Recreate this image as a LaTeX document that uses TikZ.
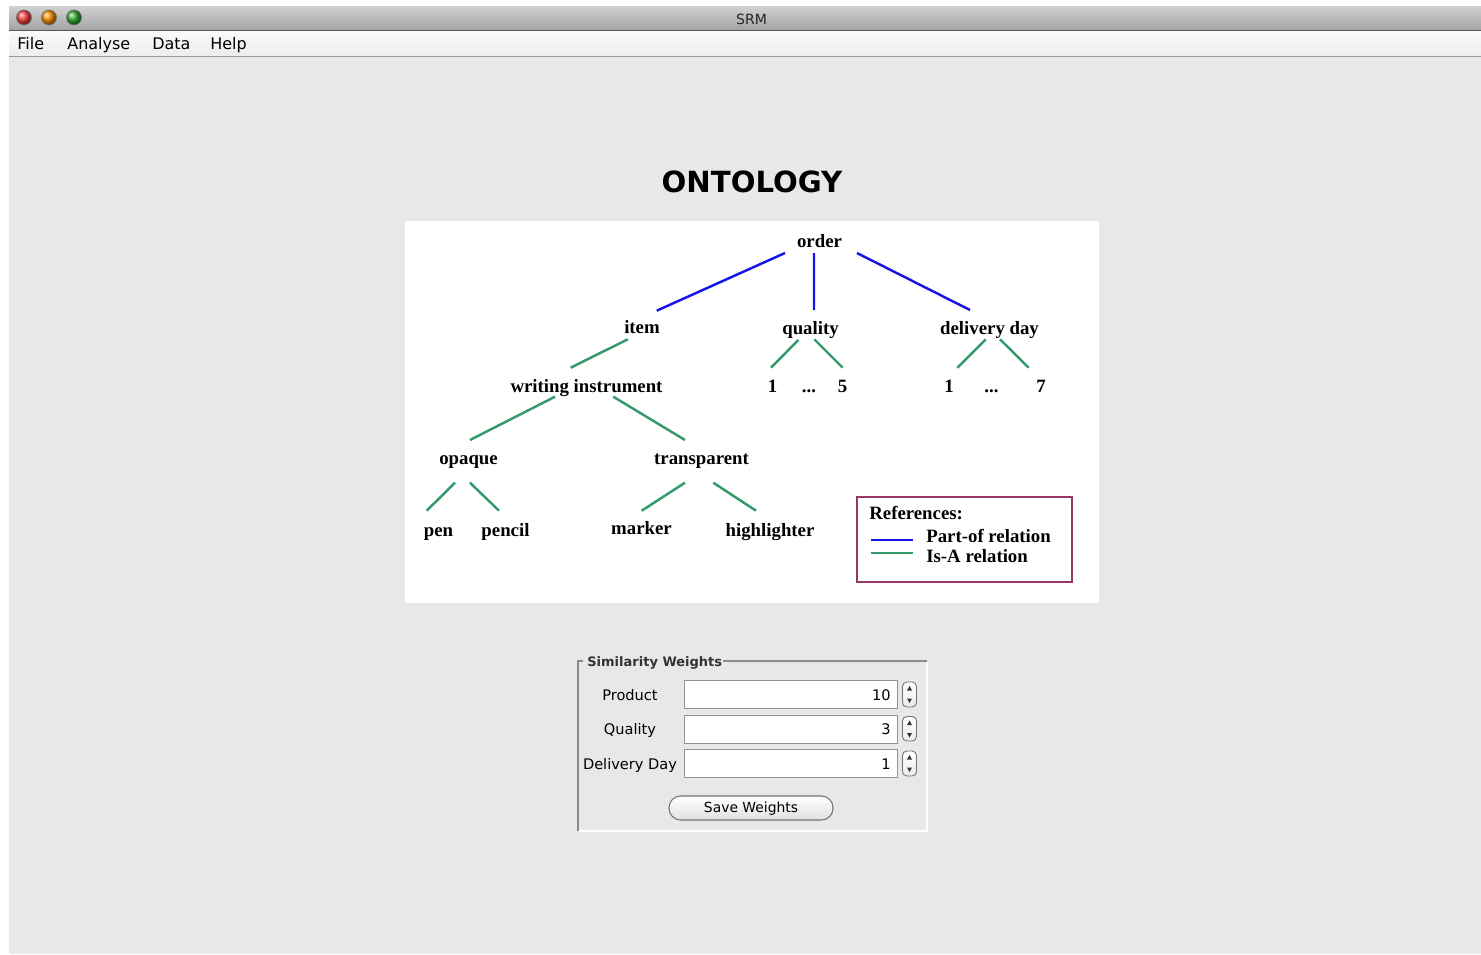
\documentclass[tikz,border=0pt]{standalone}
\usepackage{fontspec}
\setmainfont{Liberation Serif}
\newfontfamily\uifont{DejaVu Sans}
\definecolor{partofblue}{RGB}{20,20,235}
\definecolor{isagreen}{RGB}{50,155,105}
\definecolor{legendframe}{RGB}{150,55,100}
\definecolor{winbg}{RGB}{232,232,232}

\begin{document}
\begin{tikzpicture}[x=0.02cm, y=-0.02cm,
  concept/.style={font=\bfseries\fontsize{10.7pt}{13pt}\selectfont, inner sep=0pt, anchor=base},
  partof/.style={draw=partofblue, line width=1.4pt},
  isa/.style={draw=isagreen, line width=1.4pt},
  ui/.style={font=\uifont\fontsize{8.3pt}{10pt}\selectfont, inner sep=0pt, anchor=base},
  menu/.style={font=\uifont\fontsize{9.1pt}{11pt}\selectfont, inner sep=0pt, anchor=base west},
  field/.style={fill=white, draw=black!42, line width=0.5pt},
  spinner/.style={draw=black!55, top color=white, bottom color=black!8, rounded corners=2.5pt, line width=0.5pt}]
  \useasboundingbox (0,0) rectangle (1481,954);
  \fill[white] (0,0) rectangle (1481,954);

  % finestra
  \fill[winbg] (9,57) rectangle (1481,954);
  \shade[top color=black!18, bottom color=black!36] (9,6) rectangle (1481,30);
  \draw[black!65, line width=0.6pt] (9,30.5) -- (1481,30.5);
  \shade[top color=black!2, bottom color=black!7] (9,31) rectangle (1481,56);
  \draw[black!40, line width=0.9pt] (9,56.5) -- (1481,56.5);
  \shade[ball color=red!75!white, draw=black!55] (24,17.5) circle (7.5);
  \shade[ball color=orange!85!yellow, draw=black!55] (49,17.5) circle (7.5);
  \shade[ball color=green!60!black!80!white, draw=black!55] (74,17.5) circle (7.5);
  \node[font=\uifont\fontsize{8pt}{10pt}\selectfont, inner sep=0pt, anchor=base, text=black!85] (srm) at (751.5,24) {SRM};

  % menu
  \node[menu] (mfile) at (17,49) {File};
  \node[menu] (manalyse) at (67,49) {Analyse};
  \node[menu] (mdata) at (152,49) {Data};
  \node[menu] (mhelp) at (210,49) {Help};

  % titolo
  \node[font=\uifont\bfseries\fontsize{16.6pt}{20pt}\selectfont, inner sep=0pt, anchor=base] (title) at (752,192) {ONTOLOGY};

  % pannello
  \fill[white] (405,221) rectangle (1099,603);

  % concetti
  \node[concept] (order) at (819.5,247) {order};
  \node[concept] (item) at (642,333) {item};
  \node[concept] (quality) at (810.5,334) {quality};
  \node[concept] (delivery) at (989.5,334) {delivery day};
  \node[concept] (writing) at (586.5,392) {writing instrument};
  \node[concept] (qone) at (772.5,392) {1};
  \node[concept] (qdots) at (809,392) {...};
  \node[concept] (qfive) at (842.5,392) {5};
  \node[concept] (done) at (949,392) {1};
  \node[concept] (ddots) at (991.5,392) {...};
  \node[concept] (dseven) at (1041,392) {7};
  \node[concept] (opaque) at (468.5,464) {opaque};
  \node[concept] (transparent) at (701.5,464) {transparent};
  \node[concept] (pen) at (438.5,536) {pen};
  \node[concept] (pencil) at (505.5,536) {pencil};
  \node[concept] (marker) at (641.5,534) {marker};
  \node[concept] (highlighter) at (770,536) {highlighter};

  % part-of
  \draw[partof] ([shift={(-34.5,6)}]order.base) -- ([shift={(14.7,-22.3)}]item.base);
  \draw[partof] ([shift={(-5.5,6)}]order.base) -- ([shift={(3.5,-24)}]quality.base);
  \draw[partof] ([shift={(37.5,6)}]order.base) -- ([shift={(-19.5,-24)}]delivery.base);

  % is-a
  \draw[isa] ([shift={(-14.3,6.3)}]item.base) -- ([shift={(-15.8,-24.3)}]writing.base);
  \draw[isa] ([shift={(-12.2,6)}]quality.base) -- ([shift={(-1.5,-24.3)}]qone.base);
  \draw[isa] ([shift={(3.8,5.3)}]quality.base) -- ([shift={(0.2,-24.3)}]qfive.base);
  \draw[isa] ([shift={(-3.8,5.3)}]delivery.base) -- ([shift={(8.3,-24.3)}]done.base);
  \draw[isa] ([shift={(10.5,5.3)}]delivery.base) -- ([shift={(-12.3,-24.3)}]dseven.base);
  \draw[isa] ([shift={(-31.5,4.7)}]writing.base) -- ([shift={(1.5,-24)}]opaque.base);
  \draw[isa] ([shift={(26.8,4.7)}]writing.base) -- ([shift={(-16.5,-24)}]transparent.base);
  \draw[isa] ([shift={(-13.5,18.7)}]opaque.base) -- ([shift={(-11.8,-25.3)}]pen.base);
  \draw[isa] ([shift={(1.5,18.7)}]opaque.base) -- ([shift={(-6.5,-25.3)}]pencil.base);
  \draw[isa] ([shift={(-16.5,18.7)}]transparent.base) -- ([shift={(0.2,-23.3)}]marker.base);
  \draw[isa] ([shift={(11.8,18.7)}]transparent.base) -- ([shift={(-14,-25.3)}]highlighter.base);

  % legenda
  \draw[legendframe, line width=0.85pt] (857,497) rectangle (1072,582);
  \node[concept, anchor=base west] (refs) at (869,519) {References:};
  \node[concept, anchor=base west] (lpartof) at (926,542.5) {Part-of relation};
  \node[concept, anchor=base west] (lisa) at (926,562.7) {Is-A relation};
  \draw[partof] ([shift={(-55,-2.5)}]lpartof.base west) -- ++(42,0);
  \draw[isa] ([shift={(-55,-9.5)}]lisa.base west) -- ++(42,0);

  % pesi
  \draw[black!45, line width=0.6pt] (583,661) -- (578,661) -- (578,831);
  \draw[black!45, line width=0.6pt] (723,661) -- (927,661);
  \draw[white, line width=0.8pt] (927,662) -- (927,831) -- (579,831);
  \node[font=\uifont\bfseries\fontsize{7.4pt}{9pt}\selectfont, inner sep=0pt, anchor=base west, text=black!80] (wtitle) at (587,666) {Similarity Weights};

  \node[ui] (lproduct) at (630,700) {Product};
  \node[ui] (lquality) at (630,734) {Quality};
  \node[ui] (ldelivery) at (630,769) {Delivery Day};

  \draw[field] (684,680) rectangle (897,708);
  \draw[field] (684,715) rectangle (897,743);
  \draw[field] (684,749) rectangle (897,777);
  \node[ui, anchor=base east] (vproduct) at (891,700) {10};
  \node[ui, anchor=base east] (vquality) at (891,734) {3};
  \node[ui, anchor=base east] (vdelivery) at (891,769) {1};

  \draw[spinner] (902.5,682) rectangle (916.5,707);
  \draw[spinner] (902.5,716.5) rectangle (916.5,741);
  \draw[spinner] (902.5,751) rectangle (916.5,776);
  \fill[black!80] (907,690.5) -- (912,690.5) -- (909.5,686) -- cycle;
  \fill[black!80] (907,698.5) -- (912,698.5) -- (909.5,703) -- cycle;
  \fill[black!80] (907,725) -- (912,725) -- (909.5,720.5) -- cycle;
  \fill[black!80] (907,733) -- (912,733) -- (909.5,737.5) -- cycle;
  \fill[black!80] (907,759.5) -- (912,759.5) -- (909.5,755) -- cycle;
  \fill[black!80] (907,767.5) -- (912,767.5) -- (909.5,772) -- cycle;

  % bottone
  \draw[rounded corners=6.6pt, draw=black!55, top color=white, bottom color=black!12, line width=0.6pt] (669,796) rectangle (833,820);
  \node[ui, font=\uifont\fontsize{7.9pt}{10pt}\selectfont] (save) at (751,812) {Save Weights};
\end{tikzpicture}
\end{document}
